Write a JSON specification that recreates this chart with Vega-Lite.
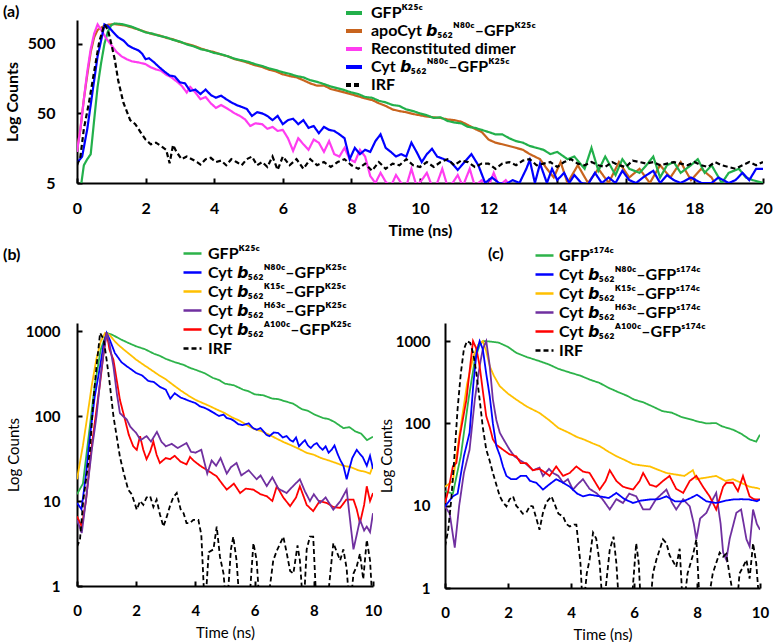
{
"$schema":"https://vega.github.io/schema/vega-lite/v6.json",
"background":"white",
"padding":{"left":3,"top":3,"right":0,"bottom":0},
"bounds":"flush",
"spacing":140,
"config":{
 "view":{"stroke":null},
 "font":"Lato",
 "axis":{"grid":false,"domainColor":"#000","domainWidth":2,"tickColor":"#000","tickWidth":2,"tickSize":-5,"labelColor":"#000","titleColor":"#000","labelFont":"Lato","titleFont":"Lato","labelFontWeight":"bold","labelFontSize":16,"labelFlush":false,"labelOverlap":false},
 "legend":{"labelFont":"Lato","labelColor":"#000","padding":0,"symbolType":"stroke","labelLimit":600},
 "title":{"font":"Lato","fontWeight":"bold","fontSize":16,"color":"#000"}
},
"resolve":{"scale":{"color":"independent","strokeDash":"independent","x":"independent","y":"independent"},"legend":{"color":"independent","strokeDash":"independent"}},
"datasets":{
"a":[
{"s":"O","t":0,"v":15},{"s":"O","t":0.1,"v":30},{"s":"O","t":0.2,"v":80},{"s":"O","t":0.3,"v":180},{"s":"O","t":0.4,"v":380},{"s":"O","t":0.5,"v":620},{"s":"O","t":0.6,"v":790},{"s":"O","t":0.75,"v":880},{"s":"O","t":0.9,"v":940},{"s":"O","t":1.1,"v":960},{"s":"O","t":1.4,"v":920},{"s":"O","t":1.8,"v":800},{"s":"O","t":2.0,"v":740},{"s":"O","t":2.2,"v":690},{"s":"O","t":2.4,"v":660},{"s":"O","t":2.6,"v":610},{"s":"O","t":2.8,"v":580},{"s":"O","t":3.0,"v":530},{"s":"O","t":3.2,"v":500},{"s":"O","t":3.4,"v":470},{"s":"O","t":3.6,"v":430},{"s":"O","t":3.8,"v":400},{"s":"O","t":4.0,"v":380},{"s":"O","t":4.2,"v":350},{"s":"O","t":4.4,"v":330},{"s":"O","t":4.6,"v":300},{"s":"O","t":4.8,"v":285},{"s":"O","t":5.0,"v":265},{"s":"O","t":5.2,"v":245},{"s":"O","t":5.4,"v":232},{"s":"O","t":5.6,"v":212},{"s":"O","t":5.8,"v":200},{"s":"O","t":6.0,"v":182},{"s":"O","t":6.2,"v":172},{"s":"O","t":6.4,"v":165},{"s":"O","t":6.6,"v":150},{"s":"O","t":6.8,"v":135},{"s":"O","t":7.0,"v":125},{"s":"O","t":7.2,"v":126},{"s":"O","t":7.4,"v":112},{"s":"O","t":7.6,"v":106},{"s":"O","t":7.8,"v":100},{"s":"O","t":8.0,"v":94},{"s":"O","t":8.2,"v":88},{"s":"O","t":8.4,"v":82},{"s":"O","t":8.6,"v":78},{"s":"O","t":8.8,"v":70},{"s":"O","t":9.0,"v":64},{"s":"O","t":9.2,"v":57},{"s":"O","t":9.4,"v":54},{"s":"O","t":9.6,"v":52},{"s":"O","t":9.8,"v":49},{"s":"O","t":10.0,"v":47},{"s":"O","t":10.2,"v":45},{"s":"O","t":10.4,"v":44},{"s":"O","t":10.6,"v":43},{"s":"O","t":10.8,"v":41},{"s":"O","t":11.0,"v":40},{"s":"O","t":11.2,"v":38},{"s":"O","t":11.4,"v":34},{"s":"O","t":11.6,"v":30},{"s":"O","t":11.8,"v":27},{"s":"O","t":12.0,"v":21},{"s":"O","t":12.2,"v":19},{"s":"O","t":12.4,"v":18},{"s":"O","t":12.6,"v":17},{"s":"O","t":12.8,"v":16},{"s":"O","t":13.0,"v":15},{"s":"O","t":13.2,"v":13},{"s":"O","t":13.5,"v":11},{"s":"O","t":13.7,"v":8},{"s":"O","t":13.9,"v":6},{"s":"O","t":14.1,"v":10},{"s":"O","t":14.3,"v":5},{"s":"O","t":14.6,"v":9},{"s":"O","t":14.9,"v":5},{"s":"O","t":15.2,"v":8},{"s":"O","t":15.5,"v":5},{"s":"O","t":15.8,"v":10},{"s":"O","t":16.1,"v":6},{"s":"O","t":16.4,"v":8},{"s":"O","t":16.7,"v":5},{"s":"O","t":17.0,"v":9},{"s":"O","t":17.3,"v":6},{"s":"O","t":17.6,"v":10},{"s":"O","t":17.9,"v":5.5},{"s":"O","t":18.2,"v":8},{"s":"O","t":18.5,"v":6},{"s":"O","t":18.7,"v":4},{"s":"O","t":19.0,"v":4},{"s":"O","t":20.0,"v":4},
{"s":"G","t":0.1,"v":4},{"s":"G","t":0.2,"v":9},{"s":"G","t":0.3,"v":11},{"s":"G","t":0.4,"v":13},{"s":"G","t":0.5,"v":40},{"s":"G","t":0.6,"v":120},{"s":"G","t":0.7,"v":260},{"s":"G","t":0.8,"v":500},{"s":"G","t":0.9,"v":750},{"s":"G","t":1.0,"v":930},{"s":"G","t":1.1,"v":980},{"s":"G","t":1.3,"v":960},{"s":"G","t":1.6,"v":880},{"s":"G","t":2.0,"v":730},{"s":"G","t":2.2,"v":700},{"s":"G","t":2.4,"v":650},{"s":"G","t":2.6,"v":620},{"s":"G","t":2.8,"v":570},{"s":"G","t":3.0,"v":540},{"s":"G","t":3.2,"v":490},{"s":"G","t":3.4,"v":460},{"s":"G","t":3.6,"v":420},{"s":"G","t":3.8,"v":400},{"s":"G","t":4.0,"v":370},{"s":"G","t":4.2,"v":355},{"s":"G","t":4.4,"v":330},{"s":"G","t":4.6,"v":305},{"s":"G","t":4.8,"v":290},{"s":"G","t":5.0,"v":275},{"s":"G","t":5.2,"v":255},{"s":"G","t":5.4,"v":240},{"s":"G","t":5.6,"v":222},{"s":"G","t":5.8,"v":210},{"s":"G","t":6.0,"v":195},{"s":"G","t":6.2,"v":185},{"s":"G","t":6.4,"v":172},{"s":"G","t":6.6,"v":165},{"s":"G","t":6.8,"v":150},{"s":"G","t":7.0,"v":142},{"s":"G","t":7.2,"v":132},{"s":"G","t":7.4,"v":122},{"s":"G","t":7.6,"v":115},{"s":"G","t":7.8,"v":108},{"s":"G","t":8.0,"v":100},{"s":"G","t":8.2,"v":95},{"s":"G","t":8.4,"v":86},{"s":"G","t":8.6,"v":84},{"s":"G","t":8.8,"v":76},{"s":"G","t":9.0,"v":72},{"s":"G","t":9.2,"v":66},{"s":"G","t":9.4,"v":64},{"s":"G","t":9.6,"v":57},{"s":"G","t":9.8,"v":54},{"s":"G","t":10.0,"v":50},{"s":"G","t":10.2,"v":47},{"s":"G","t":10.4,"v":43},{"s":"G","t":10.6,"v":44},{"s":"G","t":10.8,"v":39},{"s":"G","t":11.0,"v":37},{"s":"G","t":11.2,"v":36},{"s":"G","t":11.4,"v":32},{"s":"G","t":11.6,"v":31},{"s":"G","t":11.8,"v":29},{"s":"G","t":12.0,"v":27},{"s":"G","t":12.2,"v":25},{"s":"G","t":12.4,"v":25},{"s":"G","t":12.6,"v":22},{"s":"G","t":12.8,"v":20},{"s":"G","t":13.0,"v":19},{"s":"G","t":13.2,"v":17},{"s":"G","t":13.4,"v":16},{"s":"G","t":13.6,"v":15},{"s":"G","t":13.8,"v":13},{"s":"G","t":14.0,"v":14},{"s":"G","t":14.3,"v":11},{"s":"G","t":14.5,"v":12},{"s":"G","t":14.8,"v":8},{"s":"G","t":15.0,"v":16},{"s":"G","t":15.2,"v":7.5},{"s":"G","t":15.4,"v":12},{"s":"G","t":15.7,"v":6.5},{"s":"G","t":15.9,"v":11},{"s":"G","t":16.1,"v":8},{"s":"G","t":16.4,"v":7},{"s":"G","t":16.6,"v":9},{"s":"G","t":16.8,"v":12},{"s":"G","t":17.0,"v":6},{"s":"G","t":17.2,"v":9},{"s":"G","t":17.4,"v":10},{"s":"G","t":17.6,"v":7},{"s":"G","t":17.9,"v":9},{"s":"G","t":18.1,"v":11},{"s":"G","t":18.3,"v":7},{"s":"G","t":18.5,"v":9},{"s":"G","t":18.8,"v":5},{"s":"G","t":19.0,"v":7},{"s":"G","t":19.3,"v":8},{"s":"G","t":19.5,"v":6},{"s":"G","t":19.7,"v":5.5},{"s":"G","t":20.0,"v":5},
{"s":"M","t":0,"v":14},{"s":"M","t":0.1,"v":30},{"s":"M","t":0.2,"v":80},{"s":"M","t":0.3,"v":200},{"s":"M","t":0.4,"v":420},{"s":"M","t":0.5,"v":700},{"s":"M","t":0.6,"v":950},{"s":"M","t":0.7,"v":800},{"s":"M","t":0.85,"v":600},{"s":"M","t":1.0,"v":480},{"s":"M","t":1.15,"v":383},{"s":"M","t":1.3,"v":330},{"s":"M","t":1.45,"v":300},{"s":"M","t":1.6,"v":280},{"s":"M","t":1.8,"v":270},{"s":"M","t":2.0,"v":255},{"s":"M","t":2.15,"v":230},{"s":"M","t":2.3,"v":215},{"s":"M","t":2.45,"v":205},{"s":"M","t":2.6,"v":180},{"s":"M","t":2.75,"v":165},{"s":"M","t":2.9,"v":145},{"s":"M","t":3.05,"v":125},{"s":"M","t":3.2,"v":100},{"s":"M","t":3.3,"v":120},{"s":"M","t":3.45,"v":100},{"s":"M","t":3.6,"v":80},{"s":"M","t":3.75,"v":86},{"s":"M","t":3.9,"v":70},{"s":"M","t":4.05,"v":60},{"s":"M","t":4.2,"v":66},{"s":"M","t":4.4,"v":58},{"s":"M","t":4.6,"v":50},{"s":"M","t":4.75,"v":46},{"s":"M","t":4.9,"v":41},{"s":"M","t":5.05,"v":33},{"s":"M","t":5.2,"v":36},{"s":"M","t":5.4,"v":35},{"s":"M","t":5.55,"v":30},{"s":"M","t":5.7,"v":32},{"s":"M","t":5.85,"v":28},{"s":"M","t":6.0,"v":29},{"s":"M","t":6.15,"v":22},{"s":"M","t":6.3,"v":14.5},{"s":"M","t":6.45,"v":22},{"s":"M","t":6.6,"v":18},{"s":"M","t":6.75,"v":15},{"s":"M","t":6.9,"v":21},{"s":"M","t":7.05,"v":19},{"s":"M","t":7.2,"v":14},{"s":"M","t":7.35,"v":20},{"s":"M","t":7.5,"v":13},{"s":"M","t":7.65,"v":12},{"s":"M","t":7.8,"v":16},{"s":"M","t":7.95,"v":11},{"s":"M","t":8.1,"v":10},{"s":"M","t":8.25,"v":15},{"s":"M","t":8.4,"v":12},{"s":"M","t":8.55,"v":6.3},{"s":"M","t":8.7,"v":5},{"s":"M","t":8.85,"v":7},{"s":"M","t":9.0,"v":5.2},{"s":"M","t":9.15,"v":4.5},{"s":"M","t":9.3,"v":6.5},{"s":"M","t":9.45,"v":5},{"s":"M","t":9.6,"v":4.5},{"s":"M","t":9.75,"v":8},{"s":"M","t":9.9,"v":4.5},{"s":"M","t":10.05,"v":5.5},{"s":"M","t":10.2,"v":7},{"s":"M","t":10.35,"v":4.5},{"s":"M","t":10.5,"v":5},{"s":"M","t":10.65,"v":8},{"s":"M","t":10.8,"v":4.5},{"s":"M","t":10.95,"v":5},{"s":"M","t":11.1,"v":6.5},{"s":"M","t":11.25,"v":4.5},{"s":"M","t":11.45,"v":8},{"s":"M","t":11.6,"v":4.5},{"s":"M","t":11.8,"v":5.5},{"s":"M","t":12.0,"v":4.5},{"s":"M","t":12.15,"v":7},{"s":"M","t":12.3,"v":4.5},{"s":"M","t":12.5,"v":5.5},{"s":"M","t":12.7,"v":4},
{"s":"B","t":0,"v":9.7},{"s":"B","t":0.15,"v":12},{"s":"B","t":0.3,"v":30},{"s":"B","t":0.45,"v":100},{"s":"B","t":0.6,"v":330},{"s":"B","t":0.7,"v":550},{"s":"B","t":0.8,"v":950},{"s":"B","t":0.9,"v":900},{"s":"B","t":1.05,"v":740},{"s":"B","t":1.2,"v":620},{"s":"B","t":1.35,"v":560},{"s":"B","t":1.5,"v":470},{"s":"B","t":1.65,"v":430},{"s":"B","t":1.8,"v":400},{"s":"B","t":1.9,"v":360},{"s":"B","t":2.0,"v":300},{"s":"B","t":2.1,"v":310},{"s":"B","t":2.25,"v":270},{"s":"B","t":2.4,"v":230},{"s":"B","t":2.55,"v":200},{"s":"B","t":2.7,"v":175},{"s":"B","t":2.85,"v":170},{"s":"B","t":3.0,"v":140},{"s":"B","t":3.15,"v":135},{"s":"B","t":3.3,"v":105},{"s":"B","t":3.45,"v":110},{"s":"B","t":3.6,"v":95},{"s":"B","t":3.75,"v":110},{"s":"B","t":3.9,"v":92},{"s":"B","t":4.05,"v":84},{"s":"B","t":4.2,"v":90},{"s":"B","t":4.35,"v":80},{"s":"B","t":4.5,"v":72},{"s":"B","t":4.65,"v":66},{"s":"B","t":4.8,"v":62},{"s":"B","t":4.95,"v":58},{"s":"B","t":5.1,"v":46},{"s":"B","t":5.25,"v":52},{"s":"B","t":5.4,"v":50},{"s":"B","t":5.55,"v":46},{"s":"B","t":5.7,"v":40},{"s":"B","t":5.85,"v":46},{"s":"B","t":6.0,"v":35},{"s":"B","t":6.15,"v":40},{"s":"B","t":6.3,"v":42},{"s":"B","t":6.45,"v":35},{"s":"B","t":6.6,"v":40},{"s":"B","t":6.75,"v":31},{"s":"B","t":6.9,"v":33},{"s":"B","t":7.05,"v":26},{"s":"B","t":7.2,"v":32},{"s":"B","t":7.35,"v":29},{"s":"B","t":7.5,"v":28},{"s":"B","t":7.65,"v":25},{"s":"B","t":7.8,"v":22},{"s":"B","t":7.95,"v":11},{"s":"B","t":8.1,"v":16},{"s":"B","t":8.25,"v":13},{"s":"B","t":8.4,"v":15},{"s":"B","t":8.55,"v":14},{"s":"B","t":8.7,"v":20},{"s":"B","t":8.85,"v":25},{"s":"B","t":9.0,"v":16},{"s":"B","t":9.15,"v":14},{"s":"B","t":9.3,"v":12},{"s":"B","t":9.45,"v":13},{"s":"B","t":9.6,"v":12},{"s":"B","t":9.75,"v":19},{"s":"B","t":9.9,"v":14},{"s":"B","t":10.05,"v":10},{"s":"B","t":10.2,"v":13},{"s":"B","t":10.35,"v":15.5},{"s":"B","t":10.5,"v":12},{"s":"B","t":10.7,"v":11},{"s":"B","t":10.9,"v":10},{"s":"B","t":11.1,"v":7.7},{"s":"B","t":11.3,"v":10},{"s":"B","t":11.5,"v":13},{"s":"B","t":11.7,"v":9},{"s":"B","t":11.9,"v":5},{"s":"B","t":12.1,"v":6},{"s":"B","t":12.3,"v":5},{"s":"B","t":12.5,"v":4.8},{"s":"B","t":12.7,"v":5.5},{"s":"B","t":12.9,"v":5},{"s":"B","t":13.1,"v":8},{"s":"B","t":13.2,"v":10.7},{"s":"B","t":13.35,"v":5},{"s":"B","t":13.5,"v":9.5},{"s":"B","t":13.7,"v":5},{"s":"B","t":13.85,"v":8},{"s":"B","t":14.0,"v":5.5},{"s":"B","t":14.2,"v":7},{"s":"B","t":14.35,"v":5},{"s":"B","t":14.5,"v":6.5},{"s":"B","t":14.7,"v":5},{"s":"B","t":14.9,"v":4.8},{"s":"B","t":15.1,"v":7},{"s":"B","t":15.3,"v":5},{"s":"B","t":15.5,"v":6},{"s":"B","t":15.7,"v":5},{"s":"B","t":15.9,"v":7.5},{"s":"B","t":16.1,"v":5.5},{"s":"B","t":16.3,"v":5},{"s":"B","t":16.5,"v":6},{"s":"B","t":16.8,"v":7.5},{"s":"B","t":17.0,"v":5},{"s":"B","t":17.2,"v":6.5},{"s":"B","t":17.4,"v":5.5},{"s":"B","t":17.6,"v":5},{"s":"B","t":17.9,"v":6},{"s":"B","t":18.2,"v":5},{"s":"B","t":18.5,"v":5},{"s":"B","t":18.7,"v":6},{"s":"B","t":19.0,"v":5},{"s":"B","t":19.2,"v":5.5},{"s":"B","t":19.4,"v":7},{"s":"B","t":19.6,"v":5.5},{"s":"B","t":19.8,"v":8},{"s":"B","t":20.0,"v":8},
{"s":"I","t":0,"v":9},{"s":"I","t":0.1,"v":12},{"s":"I","t":0.2,"v":30},{"s":"I","t":0.35,"v":72},{"s":"I","t":0.5,"v":200},{"s":"I","t":0.65,"v":540},{"s":"I","t":0.8,"v":950},{"s":"I","t":0.9,"v":800},{"s":"I","t":1.0,"v":500},{"s":"I","t":1.1,"v":300},{"s":"I","t":1.2,"v":150},{"s":"I","t":1.35,"v":72},{"s":"I","t":1.55,"v":40},{"s":"I","t":1.7,"v":35},{"s":"I","t":1.85,"v":27},{"s":"I","t":2.0,"v":21},{"s":"I","t":2.15,"v":18},{"s":"I","t":2.3,"v":19},{"s":"I","t":2.45,"v":17},{"s":"I","t":2.6,"v":15},{"s":"I","t":2.7,"v":9.6},{"s":"I","t":2.8,"v":17.6},{"s":"I","t":2.9,"v":14},{"s":"I","t":3.05,"v":11},{"s":"I","t":3.2,"v":12},{"s":"I","t":3.35,"v":11},{"s":"I","t":3.5,"v":10},{"s":"I","t":3.6,"v":9.2},{"s":"I","t":3.75,"v":11},{"s":"I","t":3.9,"v":11.5},{"s":"I","t":4.05,"v":10},{"s":"I","t":4.2,"v":10.5},{"s":"I","t":4.35,"v":9},{"s":"I","t":4.5,"v":11},{"s":"I","t":4.65,"v":10},{"s":"I","t":4.8,"v":9},{"s":"I","t":4.95,"v":11},{"s":"I","t":5.1,"v":12},{"s":"I","t":5.25,"v":9},{"s":"I","t":5.4,"v":10},{"s":"I","t":5.55,"v":8.5},{"s":"I","t":5.7,"v":12},{"s":"I","t":5.85,"v":7.7},{"s":"I","t":6.0,"v":12},{"s":"I","t":6.2,"v":9},{"s":"I","t":6.4,"v":11},{"s":"I","t":6.6,"v":8},{"s":"I","t":6.8,"v":11},{"s":"I","t":7.0,"v":9},{"s":"I","t":7.2,"v":10},{"s":"I","t":7.4,"v":8.5},{"s":"I","t":7.6,"v":10},{"s":"I","t":7.8,"v":11},{"s":"I","t":8.0,"v":9},{"s":"I","t":8.2,"v":8},{"s":"I","t":8.4,"v":9.5},{"s":"I","t":8.6,"v":7.5},{"s":"I","t":8.8,"v":10},{"s":"I","t":9.0,"v":8},{"s":"I","t":9.2,"v":9.5},{"s":"I","t":9.4,"v":9},{"s":"I","t":9.6,"v":11},{"s":"I","t":9.8,"v":9},{"s":"I","t":10.0,"v":8.5},{"s":"I","t":10.2,"v":10},{"s":"I","t":10.4,"v":8.5},{"s":"I","t":10.6,"v":10},{"s":"I","t":10.8,"v":11},{"s":"I","t":11.0,"v":9},{"s":"I","t":11.2,"v":10.5},{"s":"I","t":11.4,"v":10},{"s":"I","t":11.6,"v":8.5},{"s":"I","t":11.8,"v":9.5},{"s":"I","t":12.0,"v":9.5},{"s":"I","t":12.2,"v":8},{"s":"I","t":12.4,"v":9.5},{"s":"I","t":12.6,"v":10},{"s":"I","t":12.8,"v":9},{"s":"I","t":13.0,"v":10.5},{"s":"I","t":13.2,"v":11},{"s":"I","t":13.4,"v":9},{"s":"I","t":13.6,"v":9.5},{"s":"I","t":13.8,"v":10},{"s":"I","t":14.0,"v":8.5},{"s":"I","t":14.2,"v":10},{"s":"I","t":14.4,"v":11},{"s":"I","t":14.6,"v":9.5},{"s":"I","t":14.8,"v":9},{"s":"I","t":15.0,"v":10},{"s":"I","t":15.2,"v":9},{"s":"I","t":15.4,"v":8.5},{"s":"I","t":15.6,"v":10},{"s":"I","t":15.8,"v":9},{"s":"I","t":16.0,"v":8.5},{"s":"I","t":16.2,"v":10.5},{"s":"I","t":16.4,"v":10},{"s":"I","t":16.6,"v":9.5},{"s":"I","t":16.8,"v":10},{"s":"I","t":17.0,"v":9},{"s":"I","t":17.2,"v":9.5},{"s":"I","t":17.4,"v":10},{"s":"I","t":17.6,"v":9.5},{"s":"I","t":17.8,"v":9},{"s":"I","t":18.0,"v":10},{"s":"I","t":18.2,"v":9},{"s":"I","t":18.4,"v":8.5},{"s":"I","t":18.6,"v":10},{"s":"I","t":18.8,"v":9},{"s":"I","t":19.0,"v":8.5},{"s":"I","t":19.2,"v":8},{"s":"I","t":19.4,"v":9},{"s":"I","t":19.6,"v":10},{"s":"I","t":19.8,"v":9},{"s":"I","t":20.0,"v":10}
],
"b":[
{"s":"G","t":0,"v":12},{"s":"G","t":0.2,"v":16},{"s":"G","t":0.4,"v":60},{"s":"G","t":0.6,"v":230},{"s":"G","t":0.8,"v":600},{"s":"G","t":1.0,"v":950},{"s":"G","t":1.2,"v":900},{"s":"G","t":1.5,"v":790},{"s":"G","t":1.75,"v":720},{"s":"G","t":2.0,"v":660},{"s":"G","t":2.3,"v":610},{"s":"G","t":2.6,"v":540},{"s":"G","t":2.8,"v":510},{"s":"G","t":3.0,"v":470},{"s":"G","t":3.3,"v":430},{"s":"G","t":3.6,"v":400},{"s":"G","t":3.8,"v":370},{"s":"G","t":4.0,"v":350},{"s":"G","t":4.3,"v":320},{"s":"G","t":4.6,"v":280},{"s":"G","t":4.8,"v":265},{"s":"G","t":5.0,"v":240},{"s":"G","t":5.3,"v":230},{"s":"G","t":5.6,"v":205},{"s":"G","t":5.8,"v":195},{"s":"G","t":6.0,"v":180},{"s":"G","t":6.3,"v":175},{"s":"G","t":6.6,"v":160},{"s":"G","t":6.8,"v":158},{"s":"G","t":7.0,"v":150},{"s":"G","t":7.3,"v":140},{"s":"G","t":7.6,"v":120},{"s":"G","t":7.8,"v":115},{"s":"G","t":8.0,"v":105},{"s":"G","t":8.3,"v":95},{"s":"G","t":8.5,"v":92},{"s":"G","t":8.7,"v":85},{"s":"G","t":9.0,"v":72},{"s":"G","t":9.2,"v":74},{"s":"G","t":9.4,"v":66},{"s":"G","t":9.6,"v":62},{"s":"G","t":9.8,"v":52},{"s":"G","t":10,"v":57},
{"s":"K","t":0,"v":18},{"s":"K","t":0.2,"v":45},{"s":"K","t":0.35,"v":100},{"s":"K","t":0.5,"v":230},{"s":"K","t":0.65,"v":460},{"s":"K","t":0.8,"v":750},{"s":"K","t":0.95,"v":950},{"s":"K","t":1.1,"v":900},{"s":"K","t":1.3,"v":740},{"s":"K","t":1.45,"v":660},{"s":"K","t":1.7,"v":560},{"s":"K","t":2.0,"v":460},{"s":"K","t":2.25,"v":400},{"s":"K","t":2.5,"v":350},{"s":"K","t":2.75,"v":305},{"s":"K","t":3.0,"v":270},{"s":"K","t":3.25,"v":232},{"s":"K","t":3.5,"v":200},{"s":"K","t":3.75,"v":175},{"s":"K","t":4.0,"v":155},{"s":"K","t":4.25,"v":142},{"s":"K","t":4.5,"v":130},{"s":"K","t":4.75,"v":118},{"s":"K","t":5.0,"v":108},{"s":"K","t":5.25,"v":96},{"s":"K","t":5.5,"v":88},{"s":"K","t":5.75,"v":78},{"s":"K","t":6.0,"v":70},{"s":"K","t":6.25,"v":66},{"s":"K","t":6.5,"v":60},{"s":"K","t":6.75,"v":54},{"s":"K","t":7.0,"v":49},{"s":"K","t":7.25,"v":45},{"s":"K","t":7.5,"v":41},{"s":"K","t":7.75,"v":37},{"s":"K","t":8.0,"v":35},{"s":"K","t":8.25,"v":32},{"s":"K","t":8.5,"v":30},{"s":"K","t":8.75,"v":28},{"s":"K","t":9.0,"v":26},{"s":"K","t":9.25,"v":25},{"s":"K","t":9.5,"v":23},{"s":"K","t":9.75,"v":22},{"s":"K","t":9.9,"v":21},{"s":"K","t":10,"v":26},
{"s":"N","t":0,"v":9.5},{"s":"N","t":0.15,"v":8},{"s":"N","t":0.3,"v":20},{"s":"N","t":0.45,"v":63},{"s":"N","t":0.6,"v":170},{"s":"N","t":0.78,"v":385},{"s":"N","t":0.9,"v":700},{"s":"N","t":1.0,"v":950},{"s":"N","t":1.1,"v":800},{"s":"N","t":1.28,"v":550},{"s":"N","t":1.5,"v":430},{"s":"N","t":1.68,"v":385},{"s":"N","t":1.85,"v":350},{"s":"N","t":2.0,"v":320},{"s":"N","t":2.2,"v":300},{"s":"N","t":2.4,"v":260},{"s":"N","t":2.6,"v":250},{"s":"N","t":2.8,"v":220},{"s":"N","t":3.0,"v":204},{"s":"N","t":3.15,"v":160},{"s":"N","t":3.3,"v":185},{"s":"N","t":3.5,"v":165},{"s":"N","t":3.65,"v":158},{"s":"N","t":3.8,"v":150},{"s":"N","t":4.0,"v":142},{"s":"N","t":4.15,"v":130},{"s":"N","t":4.3,"v":125},{"s":"N","t":4.45,"v":118},{"s":"N","t":4.6,"v":110},{"s":"N","t":4.8,"v":100},{"s":"N","t":4.95,"v":104},{"s":"N","t":5.05,"v":95},{"s":"N","t":5.2,"v":92},{"s":"N","t":5.3,"v":88},{"s":"N","t":5.45,"v":80},{"s":"N","t":5.6,"v":78},{"s":"N","t":5.8,"v":82},{"s":"N","t":5.95,"v":72},{"s":"N","t":6.07,"v":69},{"s":"N","t":6.2,"v":72},{"s":"N","t":6.3,"v":66},{"s":"N","t":6.4,"v":60},{"s":"N","t":6.5,"v":58},{"s":"N","t":6.65,"v":64},{"s":"N","t":6.8,"v":63},{"s":"N","t":6.95,"v":56},{"s":"N","t":7.08,"v":58},{"s":"N","t":7.2,"v":52},{"s":"N","t":7.3,"v":50},{"s":"N","t":7.4,"v":56},{"s":"N","t":7.5,"v":44},{"s":"N","t":7.6,"v":48},{"s":"N","t":7.7,"v":52},{"s":"N","t":7.8,"v":45},{"s":"N","t":7.9,"v":42},{"s":"N","t":8.0,"v":46},{"s":"N","t":8.1,"v":48},{"s":"N","t":8.2,"v":43},{"s":"N","t":8.3,"v":40},{"s":"N","t":8.4,"v":44},{"s":"N","t":8.5,"v":37},{"s":"N","t":8.6,"v":40},{"s":"N","t":8.7,"v":45},{"s":"N","t":8.8,"v":36},{"s":"N","t":8.9,"v":30},{"s":"N","t":9.0,"v":26},{"s":"N","t":9.11,"v":18},{"s":"N","t":9.2,"v":24},{"s":"N","t":9.3,"v":32},{"s":"N","t":9.45,"v":40},{"s":"N","t":9.55,"v":36},{"s":"N","t":9.65,"v":33},{"s":"N","t":9.79,"v":26},{"s":"N","t":9.9,"v":34},{"s":"N","t":10,"v":24},
{"s":"A","t":0,"v":6.6},{"s":"A","t":0.16,"v":5},{"s":"A","t":0.3,"v":10},{"s":"A","t":0.5,"v":45},{"s":"A","t":0.66,"v":120},{"s":"A","t":0.78,"v":245},{"s":"A","t":0.9,"v":550},{"s":"A","t":1.0,"v":950},{"s":"A","t":1.1,"v":600},{"s":"A","t":1.23,"v":460},{"s":"A","t":1.45,"v":155},{"s":"A","t":1.62,"v":91},{"s":"A","t":1.75,"v":60},{"s":"A","t":1.9,"v":44},{"s":"A","t":2.02,"v":40},{"s":"A","t":2.13,"v":58},{"s":"A","t":2.24,"v":40},{"s":"A","t":2.35,"v":31},{"s":"A","t":2.47,"v":38},{"s":"A","t":2.58,"v":50},{"s":"A","t":2.69,"v":35},{"s":"A","t":2.8,"v":28},{"s":"A","t":3.0,"v":32},{"s":"A","t":3.14,"v":31},{"s":"A","t":3.3,"v":34},{"s":"A","t":3.5,"v":29},{"s":"A","t":3.7,"v":27},{"s":"A","t":3.82,"v":33},{"s":"A","t":3.93,"v":30},{"s":"A","t":4.16,"v":26},{"s":"A","t":4.4,"v":23},{"s":"A","t":4.72,"v":19.5},{"s":"A","t":4.9,"v":16},{"s":"A","t":5.06,"v":13.6},{"s":"A","t":5.3,"v":16},{"s":"A","t":5.51,"v":12.4},{"s":"A","t":5.7,"v":14},{"s":"A","t":5.96,"v":13.6},{"s":"A","t":6.2,"v":12},{"s":"A","t":6.41,"v":11.4},{"s":"A","t":6.6,"v":10},{"s":"A","t":6.75,"v":14.9},{"s":"A","t":6.97,"v":11},{"s":"A","t":7.2,"v":8.7},{"s":"A","t":7.4,"v":11},{"s":"A","t":7.53,"v":14.9},{"s":"A","t":7.76,"v":9},{"s":"A","t":7.98,"v":7.6},{"s":"A","t":8.2,"v":10},{"s":"A","t":8.43,"v":9.5},{"s":"A","t":8.66,"v":8.5},{"s":"A","t":8.89,"v":8.3},{"s":"A","t":9.1,"v":10.4},{"s":"A","t":9.34,"v":10.4},{"s":"A","t":9.45,"v":8},{"s":"A","t":9.56,"v":5.5},{"s":"A","t":9.7,"v":9},{"s":"A","t":9.79,"v":14.9},{"s":"A","t":9.9,"v":10},{"s":"A","t":10,"v":12.4},
{"s":"H","t":0,"v":6},{"s":"H","t":0.16,"v":4.2},{"s":"H","t":0.3,"v":10},{"s":"H","t":0.5,"v":40},{"s":"H","t":0.66,"v":100},{"s":"H","t":0.8,"v":300},{"s":"H","t":0.9,"v":550},{"s":"H","t":1.0,"v":950},{"s":"H","t":1.1,"v":700},{"s":"H","t":1.23,"v":385},{"s":"H","t":1.35,"v":180},{"s":"H","t":1.45,"v":108},{"s":"H","t":1.55,"v":100},{"s":"H","t":1.68,"v":91},{"s":"H","t":1.8,"v":75},{"s":"H","t":2.0,"v":63},{"s":"H","t":2.15,"v":52},{"s":"H","t":2.35,"v":58},{"s":"H","t":2.5,"v":50},{"s":"H","t":2.7,"v":65},{"s":"H","t":2.85,"v":50},{"s":"H","t":3.0,"v":44},{"s":"H","t":3.2,"v":47},{"s":"H","t":3.4,"v":42},{"s":"H","t":3.7,"v":48},{"s":"H","t":3.85,"v":38},{"s":"H","t":4.0,"v":37},{"s":"H","t":4.2,"v":40},{"s":"H","t":4.4,"v":21},{"s":"H","t":4.55,"v":30},{"s":"H","t":4.7,"v":26},{"s":"H","t":4.85,"v":32},{"s":"H","t":5.06,"v":21},{"s":"H","t":5.2,"v":25},{"s":"H","t":5.39,"v":28},{"s":"H","t":5.55,"v":20},{"s":"H","t":5.8,"v":23},{"s":"H","t":6.07,"v":18},{"s":"H","t":6.2,"v":20},{"s":"H","t":6.41,"v":15},{"s":"H","t":6.6,"v":19},{"s":"H","t":6.8,"v":14},{"s":"H","t":7.08,"v":12.4},{"s":"H","t":7.3,"v":15},{"s":"H","t":7.53,"v":18},{"s":"H","t":7.7,"v":13},{"s":"H","t":7.87,"v":10},{"s":"H","t":8.0,"v":12},{"s":"H","t":8.21,"v":9.5},{"s":"H","t":8.4,"v":11},{"s":"H","t":8.66,"v":7.9},{"s":"H","t":8.9,"v":10},{"s":"H","t":9.11,"v":13.6},{"s":"H","t":9.25,"v":5},{"s":"H","t":9.34,"v":2.7},{"s":"H","t":9.45,"v":4},{"s":"H","t":9.56,"v":6},{"s":"H","t":9.7,"v":4.5},{"s":"H","t":9.79,"v":5},{"s":"H","t":9.9,"v":4.3},{"s":"H","t":10,"v":7.2},
{"s":"I","t":0,"v":2.9},{"s":"I","t":0.1,"v":3.5},{"s":"I","t":0.21,"v":10},{"s":"I","t":0.44,"v":40},{"s":"I","t":0.55,"v":150},{"s":"I","t":0.66,"v":385},{"s":"I","t":0.78,"v":950},{"s":"I","t":0.9,"v":800},{"s":"I","t":1.0,"v":460},{"s":"I","t":1.1,"v":250},{"s":"I","t":1.23,"v":100},{"s":"I","t":1.35,"v":55},{"s":"I","t":1.45,"v":33},{"s":"I","t":1.6,"v":20},{"s":"I","t":1.73,"v":13.6},{"s":"I","t":1.85,"v":12},{"s":"I","t":2.02,"v":7.9},{"s":"I","t":2.13,"v":10},{"s":"I","t":2.24,"v":9},{"s":"I","t":2.35,"v":11},{"s":"I","t":2.47,"v":11.4},{"s":"I","t":2.58,"v":8.5},{"s":"I","t":2.69,"v":10.4},{"s":"I","t":2.8,"v":7},{"s":"I","t":2.92,"v":5},{"s":"I","t":3.03,"v":6.5},{"s":"I","t":3.14,"v":8.7},{"s":"I","t":3.25,"v":11},{"s":"I","t":3.37,"v":12.4},{"s":"I","t":3.5,"v":8},{"s":"I","t":3.6,"v":7.2},{"s":"I","t":3.7,"v":5.5},{"s":"I","t":3.82,"v":5.5},{"s":"I","t":3.93,"v":6},{"s":"I","t":4.1,"v":6},{"s":"I","t":4.2,"v":4},{"s":"I","t":4.32,"v":0.5},{"s":"I","t":4.45,"v":2.5},{"s":"I","t":4.61,"v":2.7},{"s":"I","t":4.72,"v":5},{"s":"I","t":4.83,"v":2.2},{"s":"I","t":4.95,"v":1.4},{"s":"I","t":5.06,"v":0.5},{"s":"I","t":5.2,"v":2.7},{"s":"I","t":5.28,"v":3.8},{"s":"I","t":5.39,"v":2},{"s":"I","t":5.51,"v":0.5},{"s":"I","t":5.8,"v":0.5},{"s":"I","t":5.96,"v":3.2},{"s":"I","t":6.07,"v":2},{"s":"I","t":6.18,"v":0.5},{"s":"I","t":6.41,"v":0.5},{"s":"I","t":6.63,"v":2},{"s":"I","t":6.75,"v":2.6},{"s":"I","t":6.97,"v":3.8},{"s":"I","t":7.08,"v":2.5},{"s":"I","t":7.2,"v":1.5},{"s":"I","t":7.31,"v":1.4},{"s":"I","t":7.45,"v":3},{"s":"I","t":7.53,"v":2},{"s":"I","t":7.65,"v":0.5},{"s":"I","t":7.76,"v":2.7},{"s":"I","t":7.87,"v":3.8},{"s":"I","t":7.98,"v":3.8},{"s":"I","t":8.1,"v":0.5},{"s":"I","t":8.43,"v":0.5},{"s":"I","t":8.66,"v":3.2},{"s":"I","t":8.89,"v":2},{"s":"I","t":9.0,"v":2.7},{"s":"I","t":9.11,"v":1.6},{"s":"I","t":9.22,"v":0.5},{"s":"I","t":9.34,"v":1.4},{"s":"I","t":9.45,"v":1.7},{"s":"I","t":9.56,"v":2.4},{"s":"I","t":9.67,"v":1.2},{"s":"I","t":9.79,"v":3.5},{"s":"I","t":9.9,"v":2},{"s":"I","t":10,"v":0.5}
],
"c":[
{"s":"G","t":0,"v":15},{"s":"G","t":0.25,"v":14},{"s":"G","t":0.5,"v":40},{"s":"G","t":0.75,"v":200},{"s":"G","t":0.95,"v":600},{"s":"G","t":1.1,"v":900},{"s":"G","t":1.21,"v":1000},{"s":"G","t":1.4,"v":990},{"s":"G","t":1.7,"v":960},{"s":"G","t":2.0,"v":850},{"s":"G","t":2.26,"v":721},{"s":"G","t":2.6,"v":640},{"s":"G","t":3.0,"v":571},{"s":"G","t":3.3,"v":520},{"s":"G","t":3.6,"v":460},{"s":"G","t":4.0,"v":411},{"s":"G","t":4.3,"v":380},{"s":"G","t":4.6,"v":340},{"s":"G","t":4.9,"v":311},{"s":"G","t":5.2,"v":270},{"s":"G","t":5.5,"v":240},{"s":"G","t":5.8,"v":215},{"s":"G","t":6.0,"v":195},{"s":"G","t":6.3,"v":180},{"s":"G","t":6.6,"v":160},{"s":"G","t":6.9,"v":141},{"s":"G","t":7.2,"v":135},{"s":"G","t":7.5,"v":120},{"s":"G","t":7.8,"v":112},{"s":"G","t":8.0,"v":106},{"s":"G","t":8.3,"v":100},{"s":"G","t":8.6,"v":101},{"s":"G","t":8.8,"v":92},{"s":"G","t":9.14,"v":84},{"s":"G","t":9.4,"v":75},{"s":"G","t":9.67,"v":64},{"s":"G","t":9.88,"v":60},{"s":"G","t":10,"v":73},
{"s":"K","t":0,"v":17},{"s":"K","t":0.25,"v":20},{"s":"K","t":0.47,"v":77},{"s":"K","t":0.7,"v":300},{"s":"K","t":0.9,"v":650},{"s":"K","t":1.05,"v":900},{"s":"K","t":1.2,"v":1000},{"s":"K","t":1.31,"v":750},{"s":"K","t":1.42,"v":496},{"s":"K","t":1.55,"v":380},{"s":"K","t":1.74,"v":283},{"s":"K","t":2.0,"v":230},{"s":"K","t":2.26,"v":195},{"s":"K","t":2.6,"v":160},{"s":"K","t":3.0,"v":134},{"s":"K","t":3.3,"v":110},{"s":"K","t":3.6,"v":88},{"s":"K","t":3.9,"v":78},{"s":"K","t":4.2,"v":68},{"s":"K","t":4.4,"v":64},{"s":"K","t":4.7,"v":57},{"s":"K","t":4.91,"v":53},{"s":"K","t":5.2,"v":45},{"s":"K","t":5.44,"v":40},{"s":"K","t":5.7,"v":36},{"s":"K","t":5.97,"v":32},{"s":"K","t":6.2,"v":31},{"s":"K","t":6.5,"v":30},{"s":"K","t":6.8,"v":27},{"s":"K","t":7.03,"v":25},{"s":"K","t":7.3,"v":24},{"s":"K","t":7.6,"v":23},{"s":"K","t":7.87,"v":27},{"s":"K","t":7.98,"v":21},{"s":"K","t":8.3,"v":22},{"s":"K","t":8.61,"v":23},{"s":"K","t":8.9,"v":20},{"s":"K","t":9.14,"v":21},{"s":"K","t":9.4,"v":19},{"s":"K","t":9.67,"v":17},{"s":"K","t":9.9,"v":16.4},{"s":"K","t":10,"v":16},
{"s":"H","t":0,"v":9.8},{"s":"H","t":0.15,"v":8},{"s":"H","t":0.31,"v":3.1},{"s":"H","t":0.45,"v":10},{"s":"H","t":0.6,"v":25},{"s":"H","t":0.78,"v":48},{"s":"H","t":0.95,"v":200},{"s":"H","t":1.1,"v":496},{"s":"H","t":1.2,"v":800},{"s":"H","t":1.31,"v":1000},{"s":"H","t":1.42,"v":500},{"s":"H","t":1.52,"v":195},{"s":"H","t":1.63,"v":110},{"s":"H","t":1.74,"v":77},{"s":"H","t":1.9,"v":60},{"s":"H","t":2.05,"v":48},{"s":"H","t":2.2,"v":40},{"s":"H","t":2.37,"v":36},{"s":"H","t":2.58,"v":32},{"s":"H","t":2.79,"v":27},{"s":"H","t":3.0,"v":29},{"s":"H","t":3.11,"v":23},{"s":"H","t":3.3,"v":28},{"s":"H","t":3.43,"v":25},{"s":"H","t":3.6,"v":23},{"s":"H","t":3.75,"v":19},{"s":"H","t":3.9,"v":21},{"s":"H","t":4.06,"v":15.7},{"s":"H","t":4.2,"v":18},{"s":"H","t":4.38,"v":21},{"s":"H","t":4.59,"v":16},{"s":"H","t":4.8,"v":14.3},{"s":"H","t":5.0,"v":12},{"s":"H","t":5.23,"v":9},{"s":"H","t":5.44,"v":12},{"s":"H","t":5.65,"v":10.8},{"s":"H","t":5.85,"v":14},{"s":"H","t":6.07,"v":13},{"s":"H","t":6.29,"v":9},{"s":"H","t":6.5,"v":9},{"s":"H","t":6.7,"v":12},{"s":"H","t":7.03,"v":15.7},{"s":"H","t":7.2,"v":11},{"s":"H","t":7.34,"v":9},{"s":"H","t":7.56,"v":12},{"s":"H","t":7.77,"v":9.8},{"s":"H","t":7.9,"v":6},{"s":"H","t":7.98,"v":3.9},{"s":"H","t":8.1,"v":7},{"s":"H","t":8.3,"v":8.2},{"s":"H","t":8.45,"v":11},{"s":"H","t":8.61,"v":14.3},{"s":"H","t":8.75,"v":6},{"s":"H","t":8.83,"v":2.7},{"s":"H","t":8.93,"v":2.2},{"s":"H","t":9.04,"v":4},{"s":"H","t":9.25,"v":8.2},{"s":"H","t":9.4,"v":9},{"s":"H","t":9.57,"v":3.9},{"s":"H","t":9.67,"v":3.2},{"s":"H","t":9.78,"v":9},{"s":"H","t":9.9,"v":6},{"s":"H","t":10,"v":5.1},
{"s":"A","t":0,"v":10.8},{"s":"A","t":0.1,"v":15},{"s":"A","t":0.25,"v":30},{"s":"A","t":0.36,"v":33},{"s":"A","t":0.47,"v":70},{"s":"A","t":0.68,"v":195},{"s":"A","t":0.8,"v":500},{"s":"A","t":0.89,"v":1000},{"s":"A","t":1.0,"v":800},{"s":"A","t":1.1,"v":496},{"s":"A","t":1.2,"v":250},{"s":"A","t":1.31,"v":122},{"s":"A","t":1.42,"v":90},{"s":"A","t":1.52,"v":64},{"s":"A","t":1.63,"v":55},{"s":"A","t":1.84,"v":48},{"s":"A","t":2.05,"v":42},{"s":"A","t":2.26,"v":40},{"s":"A","t":2.4,"v":33},{"s":"A","t":2.58,"v":33},{"s":"A","t":2.79,"v":27},{"s":"A","t":3.0,"v":28},{"s":"A","t":3.2,"v":25},{"s":"A","t":3.32,"v":23},{"s":"A","t":3.53,"v":30},{"s":"A","t":3.75,"v":23},{"s":"A","t":3.96,"v":25},{"s":"A","t":4.17,"v":30},{"s":"A","t":4.38,"v":26},{"s":"A","t":4.59,"v":25},{"s":"A","t":4.91,"v":15.7},{"s":"A","t":5.1,"v":20},{"s":"A","t":5.23,"v":27},{"s":"A","t":5.44,"v":20},{"s":"A","t":5.65,"v":17},{"s":"A","t":5.97,"v":15.7},{"s":"A","t":6.18,"v":20},{"s":"A","t":6.29,"v":25},{"s":"A","t":6.5,"v":18},{"s":"A","t":6.71,"v":17},{"s":"A","t":6.92,"v":20},{"s":"A","t":7.13,"v":23},{"s":"A","t":7.34,"v":16},{"s":"A","t":7.56,"v":14.3},{"s":"A","t":7.77,"v":20},{"s":"A","t":7.98,"v":23},{"s":"A","t":8.19,"v":17},{"s":"A","t":8.4,"v":13},{"s":"A","t":8.61,"v":9},{"s":"A","t":8.83,"v":17},{"s":"A","t":8.93,"v":19},{"s":"A","t":9.14,"v":19},{"s":"A","t":9.3,"v":15},{"s":"A","t":9.46,"v":23},{"s":"A","t":9.67,"v":13},{"s":"A","t":9.8,"v":12},{"s":"A","t":10,"v":11.9},
{"s":"N","t":0,"v":9.8},{"s":"N","t":0.25,"v":13},{"s":"N","t":0.4,"v":14},{"s":"N","t":0.6,"v":40},{"s":"N","t":0.78,"v":77},{"s":"N","t":0.9,"v":300},{"s":"N","t":1.0,"v":721},{"s":"N","t":1.1,"v":1000},{"s":"N","t":1.2,"v":800},{"s":"N","t":1.31,"v":400},{"s":"N","t":1.42,"v":214},{"s":"N","t":1.52,"v":100},{"s":"N","t":1.63,"v":53},{"s":"N","t":1.75,"v":40},{"s":"N","t":1.84,"v":30},{"s":"N","t":1.95,"v":23},{"s":"N","t":2.1,"v":21},{"s":"N","t":2.26,"v":21},{"s":"N","t":2.4,"v":23},{"s":"N","t":2.58,"v":23},{"s":"N","t":2.7,"v":20},{"s":"N","t":2.9,"v":19},{"s":"N","t":3.11,"v":15.7},{"s":"N","t":3.3,"v":18},{"s":"N","t":3.53,"v":21},{"s":"N","t":3.75,"v":19},{"s":"N","t":3.96,"v":17},{"s":"N","t":4.2,"v":14},{"s":"N","t":4.38,"v":13},{"s":"N","t":4.6,"v":13.6},{"s":"N","t":4.91,"v":13},{"s":"N","t":5.2,"v":12.4},{"s":"N","t":5.44,"v":14.3},{"s":"N","t":5.7,"v":12},{"s":"N","t":5.97,"v":10.8},{"s":"N","t":6.2,"v":11.5},{"s":"N","t":6.5,"v":11.9},{"s":"N","t":6.8,"v":12},{"s":"N","t":7.03,"v":13},{"s":"N","t":7.3,"v":11.3},{"s":"N","t":7.56,"v":11.3},{"s":"N","t":7.8,"v":12.4},{"s":"N","t":8.0,"v":13.6},{"s":"N","t":8.3,"v":11.3},{"s":"N","t":8.61,"v":10.8},{"s":"N","t":8.9,"v":11.5},{"s":"N","t":9.14,"v":11.9},{"s":"N","t":9.4,"v":12},{"s":"N","t":9.67,"v":11.9},{"s":"N","t":9.9,"v":11.3},{"s":"N","t":10,"v":11.9},
{"s":"I","t":0,"v":3.2},{"s":"I","t":0.1,"v":5},{"s":"I","t":0.2,"v":12},{"s":"I","t":0.3,"v":40},{"s":"I","t":0.4,"v":150},{"s":"I","t":0.5,"v":400},{"s":"I","t":0.6,"v":800},{"s":"I","t":0.7,"v":1000},{"s":"I","t":0.8,"v":950},{"s":"I","t":0.9,"v":700},{"s":"I","t":1.0,"v":400},{"s":"I","t":1.1,"v":195},{"s":"I","t":1.2,"v":90},{"s":"I","t":1.31,"v":48},{"s":"I","t":1.42,"v":35},{"s":"I","t":1.52,"v":25},{"s":"I","t":1.63,"v":18},{"s":"I","t":1.74,"v":13},{"s":"I","t":1.84,"v":11},{"s":"I","t":1.95,"v":9.8},{"s":"I","t":2.05,"v":12},{"s":"I","t":2.16,"v":13},{"s":"I","t":2.26,"v":10},{"s":"I","t":2.37,"v":9},{"s":"I","t":2.47,"v":8},{"s":"I","t":2.58,"v":8.2},{"s":"I","t":2.7,"v":10},{"s":"I","t":2.79,"v":9.8},{"s":"I","t":2.9,"v":7},{"s":"I","t":3.0,"v":5.1},{"s":"I","t":3.11,"v":8.2},{"s":"I","t":3.22,"v":11},{"s":"I","t":3.38,"v":13},{"s":"I","t":3.5,"v":10},{"s":"I","t":3.6,"v":8},{"s":"I","t":3.75,"v":7.4},{"s":"I","t":3.85,"v":6},{"s":"I","t":3.96,"v":5.6},{"s":"I","t":4.1,"v":5.9},{"s":"I","t":4.17,"v":5.9},{"s":"I","t":4.3,"v":2},{"s":"I","t":4.38,"v":0.5},{"s":"I","t":4.5,"v":1.5},{"s":"I","t":4.59,"v":2.2},{"s":"I","t":4.7,"v":4.7},{"s":"I","t":4.8,"v":4},{"s":"I","t":4.91,"v":2},{"s":"I","t":5.02,"v":0.5},{"s":"I","t":5.15,"v":1.5},{"s":"I","t":5.23,"v":2.9},{"s":"I","t":5.35,"v":4.2},{"s":"I","t":5.44,"v":2},{"s":"I","t":5.54,"v":0.5},{"s":"I","t":5.9,"v":0.5},{"s":"I","t":6.07,"v":3.5},{"s":"I","t":6.15,"v":2},{"s":"I","t":6.23,"v":0.5},{"s":"I","t":6.5,"v":0.5},{"s":"I","t":6.6,"v":1.5},{"s":"I","t":6.71,"v":2.2},{"s":"I","t":6.92,"v":3.9},{"s":"I","t":7.03,"v":3.5},{"s":"I","t":7.13,"v":2.5},{"s":"I","t":7.34,"v":1.8},{"s":"I","t":7.45,"v":3},{"s":"I","t":7.56,"v":0.5},{"s":"I","t":7.7,"v":1.5},{"s":"I","t":7.87,"v":2.5},{"s":"I","t":7.98,"v":3.9},{"s":"I","t":8.1,"v":0.5},{"s":"I","t":8.3,"v":0.5},{"s":"I","t":8.5,"v":1.5},{"s":"I","t":8.72,"v":2.7},{"s":"I","t":8.83,"v":2.4},{"s":"I","t":8.93,"v":2.6},{"s":"I","t":9.04,"v":1.4},{"s":"I","t":9.25,"v":0.5},{"s":"I","t":9.35,"v":1.5},{"s":"I","t":9.46,"v":1.8},{"s":"I","t":9.57,"v":2.2},{"s":"I","t":9.67,"v":1.3},{"s":"I","t":9.78,"v":3.5},{"s":"I","t":9.88,"v":2},{"s":"I","t":10,"v":0.5}
]
},
"vconcat":[
{
 "width":686,"height":163,
 "data":{"name":"a"},
 "title":{"text":"(a)","anchor":"start","frame":"group","dx":-74,"dy":17,"offset":0},
 "mark":{"type":"line","clip":true,"strokeWidth":2.2},
 "encoding":{
  "x":{"field":"t","type":"quantitative","scale":{"domain":[0,20],"nice":false},"axis":{"values":[0,2,4,6,8,10,12,14,16,18,20],"title":"Time (ns)","titleFontSize":16,"titleFontWeight":"bold","labelPadding":22,"titlePadding":6}},
  "y":{"field":"v","type":"quantitative","scale":{"type":"log","domain":[5,1100],"nice":false},"axis":{"values":[5,50,500],"format":"d","title":"Log Counts","titleFontSize":16,"titleFontWeight":"bold","labelPadding":27,"titlePadding":7}},
  "color":{"field":"s","type":"nominal","scale":{"domain":["G","O","M","B","I"],"range":["#22b04b","#c8641e","#ff3cf0","#0000ff","#000000"]},
   "legend":{"title":null,"orient":"none","legendX":267,"legendY":-17,"symbolSize":256,"symbolStrokeWidth":4,"labelFontSize":16,"labelFontWeight":"bold","labelOffset":7,"rowPadding":-2,
   "labelExpr":"datum.label=='G'?'GFPᴷ²⁵ᶜ':datum.label=='O'?'apoCyt 𝙗₅₆₂ᴺ⁸⁰ᶜ–GFPᴷ²⁵ᶜ':datum.label=='M'?'Reconstituted dimer':datum.label=='B'?'Cyt 𝙗₅₆₂ᴺ⁸⁰ᶜ–GFPᴷ²⁵ᶜ':'IRF'"}},
  "strokeDash":{"field":"s","type":"nominal","scale":{"domain":["G","O","M","B","I"],"range":[[1,0],[1,0],[1,0],[1,0],[5,3]]},
   "legend":{"title":null,"orient":"none","legendX":267,"legendY":-17,"symbolSize":256,"symbolStrokeWidth":4,"labelFontSize":16,"labelFontWeight":"bold","labelOffset":7,"rowPadding":-2,
   "labelExpr":"datum.label=='G'?'GFPᴷ²⁵ᶜ':datum.label=='O'?'apoCyt 𝙗₅₆₂ᴺ⁸⁰ᶜ–GFPᴷ²⁵ᶜ':datum.label=='M'?'Reconstituted dimer':datum.label=='B'?'Cyt 𝙗₅₆₂ᴺ⁸⁰ᶜ–GFPᴷ²⁵ᶜ':'IRF'"}}
 }
},
{
 "hconcat":[
 {
  "width":296,"height":263,
  "data":{"name":"b"},
  "title":{"text":"(b)","anchor":"start","frame":"group","dx":-74,"dy":20,"offset":0},
  "mark":{"type":"line","clip":true,"strokeWidth":1.8},
  "encoding":{
   "x":{"field":"t","type":"quantitative","scale":{"domain":[0,10],"nice":false},"axis":{"values":[0,2,4,6,8,10],"title":"Time (ns)","labelFontSize":15,"titleFontSize":15,"titleFontWeight":"normal","labelPadding":22,"titlePadding":7}},
   "y":{"field":"v","type":"quantitative","scale":{"type":"log","domain":[1,1242],"nice":false},"axis":{"values":[1,10,100,1000],"format":"d","title":"Log Counts","labelFontSize":15,"titleFontSize":15,"titleFontWeight":"normal","labelPadding":22,"titlePadding":4}},
   "color":{"field":"s","type":"nominal","scale":{"domain":["G","N","K","H","A","I"],"range":["#2db34a","#0000ff","#ffc000","#7030a0","#ff0000","#000000"]},
    "legend":{"title":null,"orient":"none","legendX":105,"legendY":-80,"symbolSize":324,"symbolStrokeWidth":2.5,"labelFontSize":16,"labelFontWeight":"bold","labelOffset":5,"rowPadding":-0.6,
    "labelExpr":"datum.label=='G'?'GFPᴷ²⁵ᶜ':datum.label=='N'?'Cyt 𝙗₅₆₂ᴺ⁸⁰ᶜ–GFPᴷ²⁵ᶜ':datum.label=='K'?'Cyt 𝙗₅₆₂ᴷ¹⁵ᶜ–GFPᴷ²⁵ᶜ':datum.label=='H'?'Cyt 𝙗₅₆₂ᴴ⁶³ᶜ–GFPᴷ²⁵ᶜ':datum.label=='A'?'Cyt 𝙗₅₆₂ᴬ¹⁰⁰ᶜ–GFPᴷ²⁵ᶜ':'IRF'"}},
   "strokeDash":{"field":"s","type":"nominal","scale":{"domain":["G","N","K","H","A","I"],"range":[[1,0],[1,0],[1,0],[1,0],[1,0],[5,3]]},
    "legend":{"title":null,"orient":"none","legendX":105,"legendY":-80,"symbolSize":324,"symbolStrokeWidth":2.5,"labelFontSize":16,"labelFontWeight":"bold","labelOffset":5,"rowPadding":-0.6,
    "labelExpr":"datum.label=='G'?'GFPᴷ²⁵ᶜ':datum.label=='N'?'Cyt 𝙗₅₆₂ᴺ⁸⁰ᶜ–GFPᴷ²⁵ᶜ':datum.label=='K'?'Cyt 𝙗₅₆₂ᴷ¹⁵ᶜ–GFPᴷ²⁵ᶜ':datum.label=='H'?'Cyt 𝙗₅₆₂ᴴ⁶³ᶜ–GFPᴷ²⁵ᶜ':datum.label=='A'?'Cyt 𝙗₅₆₂ᴬ¹⁰⁰ᶜ–GFPᴷ²⁵ᶜ':'IRF'"}}
  }
 },
 {
  "width":315,"height":265,
  "data":{"name":"c"},
  "title":{"text":"(c)","anchor":"start","frame":"group","dx":43,"dy":17,"offset":0},
  "mark":{"type":"line","clip":true,"strokeWidth":1.8},
  "encoding":{
   "x":{"field":"t","type":"quantitative","scale":{"domain":[0,10],"nice":false},"axis":{"values":[0,2,4,6,8,10],"title":"Time (ns)","labelFontSize":15,"titleFontSize":15,"titleFontWeight":"normal","labelPadding":22,"titlePadding":7}},
   "y":{"field":"v","type":"quantitative","scale":{"type":"log","domain":[1,1660],"nice":false},"axis":{"values":[1,10,100,1000],"format":"d","title":"Log Counts","labelFontSize":15,"titleFontSize":15,"titleFontWeight":"normal","labelPadding":20,"titlePadding":1}},
   "color":{"field":"s","type":"nominal","scale":{"domain":["G","N","K","H","A","I"],"range":["#2db34a","#0000ff","#ffc000","#7030a0","#ff0000","#000000"]},
    "legend":{"title":null,"orient":"none","legendX":89,"legendY":-78,"symbolSize":324,"symbolStrokeWidth":2.5,"labelFontSize":16,"labelFontWeight":"bold","labelOffset":4,"rowPadding":-0.6,
    "labelExpr":"datum.label=='G'?'GFPˢ¹⁷⁴ᶜ':datum.label=='N'?'Cyt 𝙗₅₆₂ᴺ⁸⁰ᶜ–GFPˢ¹⁷⁴ᶜ':datum.label=='K'?'Cyt 𝙗₅₆₂ᴷ¹⁵ᶜ–GFPˢ¹⁷⁴ᶜ':datum.label=='H'?'Cyt 𝙗₅₆₂ᴴ⁶³ᶜ–GFPˢ¹⁷⁴ᶜ':datum.label=='A'?'Cyt 𝙗₅₆₂ᴬ¹⁰⁰ᶜ–GFPˢ¹⁷⁴ᶜ':'IRF'"}},
   "strokeDash":{"field":"s","type":"nominal","scale":{"domain":["G","N","K","H","A","I"],"range":[[1,0],[1,0],[1,0],[1,0],[1,0],[5,3]]},
    "legend":{"title":null,"orient":"none","legendX":89,"legendY":-78,"symbolSize":324,"symbolStrokeWidth":2.5,"labelFontSize":16,"labelFontWeight":"bold","labelOffset":4,"rowPadding":-0.6,
    "labelExpr":"datum.label=='G'?'GFPˢ¹⁷⁴ᶜ':datum.label=='N'?'Cyt 𝙗₅₆₂ᴺ⁸⁰ᶜ–GFPˢ¹⁷⁴ᶜ':datum.label=='K'?'Cyt 𝙗₅₆₂ᴷ¹⁵ᶜ–GFPˢ¹⁷⁴ᶜ':datum.label=='H'?'Cyt 𝙗₅₆₂ᴴ⁶³ᶜ–GFPˢ¹⁷⁴ᶜ':datum.label=='A'?'Cyt 𝙗₅₆₂ᴬ¹⁰⁰ᶜ–GFPˢ¹⁷⁴ᶜ':'IRF'"}}
  }
 }
 ],
 "spacing":72,
 "bounds":"flush",
 "resolve":{"scale":{"color":"independent","strokeDash":"independent","x":"independent","y":"independent"},"legend":{"color":"independent","strokeDash":"independent"}}
}
]
}
